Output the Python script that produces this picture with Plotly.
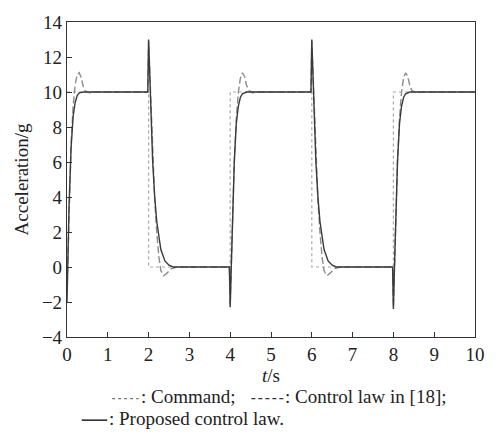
import plotly.graph_objects as go

# ---- data ----
t_cmd = [0, 2, 2, 4, 4, 6, 6, 8, 8, 10]
a_cmd = [10, 10, 0, 0, 10, 10, 0, 0, 10, 10]

t_ref = [0, 0.03, 0.06, 0.1, 0.15, 0.2, 0.25, 0.3, 0.35, 0.4, 0.45, 0.55, 0.7,
         1.98, 2.0, 2.03, 2.06, 2.1, 2.15, 2.2, 2.25, 2.3, 2.37, 2.45, 2.55, 2.7,
         3.98, 4.0, 4.03, 4.06, 4.1, 4.15, 4.2, 4.25, 4.3, 4.35, 4.4, 4.45, 4.55, 4.7,
         5.98, 6.0, 6.03, 6.06, 6.1, 6.15, 6.2, 6.25, 6.3, 6.37, 6.45, 6.55, 6.7,
         7.98, 8.0, 8.03, 8.06, 8.1, 8.15, 8.2, 8.25, 8.3, 8.35, 8.4, 8.45, 8.55, 8.7,
         10]
a_ref = [-1.5, 1.5, 4.5, 7.0, 9.2, 10.4, 11.0, 11.1, 10.8, 10.3, 10.05, 9.95, 10.0,
         10.0, 12.9, 11.0, 8.5, 6.0, 3.8, 2.0, 0.6, -0.2, -0.5, -0.35, -0.1, 0.0,
         0.0, -2.2, 0.5, 3.5, 6.0, 8.5, 10.0, 10.8, 11.1, 10.9, 10.4, 10.1, 9.95, 10.0,
         10.0, 12.9, 11.0, 8.5, 6.0, 3.8, 2.0, 0.6, -0.2, -0.5, -0.35, -0.1, 0.0,
         0.0, -2.3, 0.5, 3.5, 6.0, 8.5, 10.0, 10.8, 11.1, 10.9, 10.4, 10.1, 9.95, 10.0,
         10.0]

t_prop = [0, 0.02, 0.05, 0.1, 0.15, 0.2, 0.25, 0.3, 0.4, 0.5,
          1.98, 2.0, 2.02, 2.05, 2.1, 2.15, 2.2, 2.3, 2.4, 2.5, 2.6,
          3.98, 4.0, 4.02, 4.05, 4.1, 4.15, 4.2, 4.25, 4.3, 4.4, 4.5,
          5.98, 6.0, 6.02, 6.05, 6.1, 6.15, 6.2, 6.3, 6.4, 6.5, 6.6,
          7.98, 8.0, 8.02, 8.05, 8.1, 8.15, 8.2, 8.25, 8.3, 8.4, 8.5,
          10]
a_prop = [-2.0, 0.5, 3.5, 6.8, 8.6, 9.4, 9.8, 9.95, 10.0, 10.0,
          10.0, 13.0, 11.5, 9.0, 6.0, 4.0, 2.6, 1.0, 0.35, 0.1, 0.0,
          0.0, -2.3, -0.5, 2.5, 6.0, 8.2, 9.2, 9.7, 9.9, 10.0, 10.0,
          10.0, 13.0, 11.5, 9.0, 6.0, 4.0, 2.6, 1.0, 0.35, 0.1, 0.0,
          0.0, -2.4, -0.5, 2.5, 6.0, 8.2, 9.2, 9.7, 9.9, 10.0, 10.0,
          10.0]

x_ticks = [0, 1, 2, 3, 4, 5, 6, 7, 8, 9, 10]
y_ticks = [-4, -2, 0, 2, 4, 6, 8, 10, 12, 14]

FONT = "Liberation Serif"
FS = 19

fig = go.Figure()
fig.add_trace(go.Scatter(x=t_cmd, y=a_cmd, mode="lines",
                         line=dict(color="#a8a8a8", width=1.2, dash="dot"),
                         name="Command"))
fig.add_trace(go.Scatter(x=t_ref, y=a_ref, mode="lines",
                         line=dict(color="#8c8c8c", width=1.4, dash="7px,3px"),
                         name="Control law in [18]"))
fig.add_trace(go.Scatter(x=t_prop, y=a_prop, mode="lines",
                         line=dict(color="#3a3a3a", width=1.4),
                         name="Proposed control law"))

W, H = 497, 445
L, R, T, B = 67, 14, 15, 108
pw = W - L - R
ph = H - T - B

def px(x):
    return (x - L) / pw

def py(y):
    return (H - B - y) / ph

axis_common = dict(showline=True, linecolor="#333", linewidth=1.2, mirror=True,
                   ticks="inside", ticklen=5, tickcolor="#333", tickwidth=1.2,
                   showgrid=False, zeroline=False,
                   tickfont=dict(family=FONT, size=FS, color="#222"))

fig.update_layout(
    width=W, height=H,
    margin=dict(l=L, r=R, t=T, b=B),
    paper_bgcolor="white", plot_bgcolor="white",
    showlegend=False,
    font=dict(family=FONT, size=FS, color="#222"),
    xaxis=dict(range=[0, 10], tickvals=x_ticks,
               title=dict(text="<i>t</i>/s", font=dict(family=FONT, size=FS), standoff=2),
               **axis_common),
    yaxis=dict(range=[-4, 14], tickvals=y_ticks,
               title=dict(text="Acceleration/g", font=dict(family=FONT, size=FS), standoff=8),
               **axis_common),
)

# legend drawn as caption under the axis title
ly1, ly2 = 398, 420
shapes = [
    dict(type="line", xref="paper", yref="paper", x0=px(113), x1=px(140), y0=py(ly1 + 2), y1=py(ly1 + 2),
         line=dict(color="#777", width=1.2, dash="dot")),
    dict(type="line", xref="paper", yref="paper", x0=px(255), x1=px(288), y0=py(ly1 + 2), y1=py(ly1 + 2),
         line=dict(color="#333", width=1.3, dash="4px,3px")),
    dict(type="line", xref="paper", yref="paper", x0=px(82), x1=px(108), y0=py(ly2 + 2), y1=py(ly2 + 2),
         line=dict(color="#222", width=1.5)),
]
annotations = [
    dict(text=": Command;", xref="paper", yref="paper", x=px(140), y=py(ly1),
         xanchor="left", yanchor="middle", showarrow=False, font=dict(family=FONT, size=FS, color="#222")),
    dict(text=": Control law in [18];", xref="paper", yref="paper", x=px(287), y=py(ly1),
         xanchor="left", yanchor="middle", showarrow=False, font=dict(family=FONT, size=FS, color="#222")),
    dict(text=": Proposed control law.", xref="paper", yref="paper", x=px(108), y=py(ly2),
         xanchor="left", yanchor="middle", showarrow=False, font=dict(family=FONT, size=FS, color="#222")),
]
fig.update_layout(shapes=shapes, annotations=annotations)

fig.write_html("out.html")
